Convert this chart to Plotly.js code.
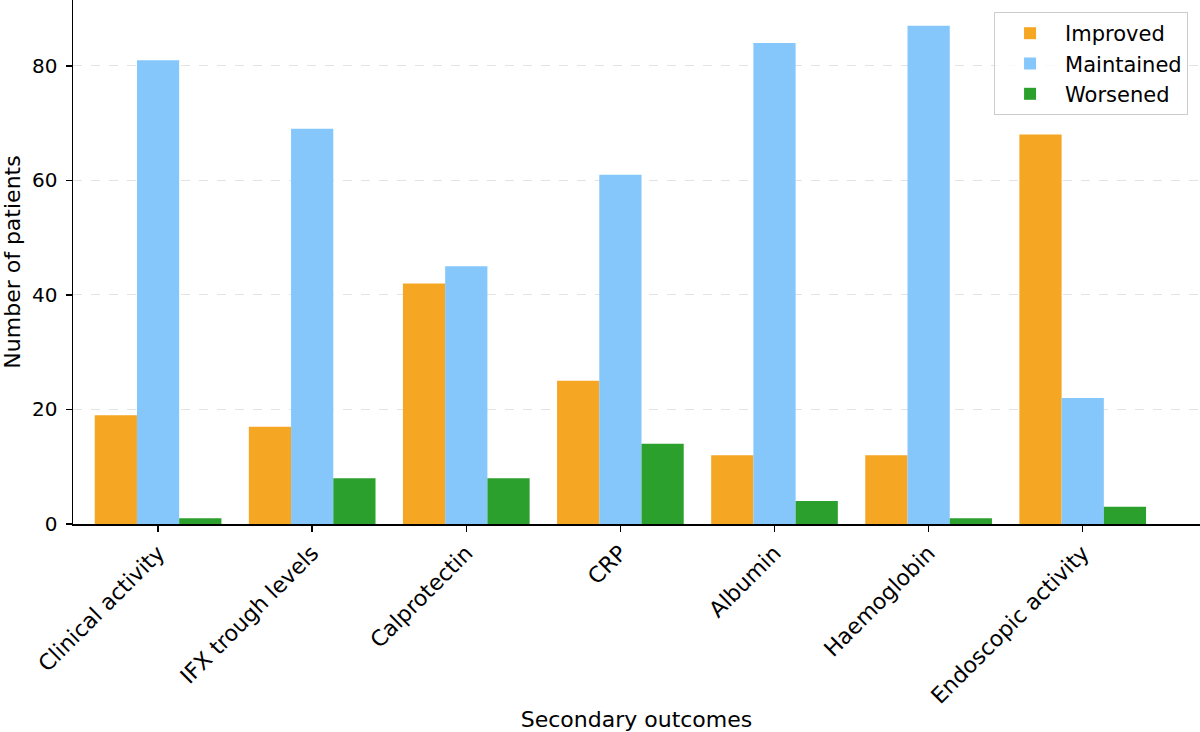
<!DOCTYPE html>
<html>
<head>
<meta charset="utf-8">
<script src="https://cdn.plot.ly/plotly-3.0.1.min.js"></script>
<style>html,body{margin:0;padding:0;background:#fff;}#chart{width:1200px;height:732px;}</style>
</head>
<body>
<div id="chart"></div>
<script>
const categories = ["Clinical activity", "IFX trough levels", "Calprotectin", "CRP", "Albumin", "Haemoglobin", "Endoscopic activity"];
const improved = [19, 17, 42, 25, 12, 12, 68];
const maintained = [81, 69, 45, 61, 84, 87, 22];
const worsened = [1, 8, 8, 14, 4, 1, 3];
const seriesNames = ["Improved", "Maintained", "Worsened"];
const seriesColors = ["#F5A623", "#85C6FB", "#2CA02C"];
const yTicks = [0, 20, 40, 60, 80];

const idx = categories.map((c, i) => i);
const data = [improved, maintained, worsened].map((vals, k) => ({
  type: "bar",
  x: idx,
  y: vals,
  name: seriesNames[k],
  marker: {color: seriesColors[k], line: {width: 0}},
  hoverinfo: "y"
}));

const layout = {
  width: 1200, height: 732,
  margin: {l: 73, r: 0, t: 0, b: 208},
  paper_bgcolor: "#fff", plot_bgcolor: "#fff",
  font: {family: "DejaVu Sans, sans-serif", color: "#000", size: 20},
  barmode: "group", bargap: 0.178, bargroupgap: 0,
  showlegend: true,
  legend: {
    x: 0.9894, xanchor: "right", y: 0.977, yanchor: "top",
    bgcolor: "rgba(255,255,255,0.8)", bordercolor: "#cccccc", borderwidth: 1,
    font: {size: 21, family: "DejaVu Sans, sans-serif"},
    itemwidth: 60, tracegroupgap: 0
  },
  xaxis: {
    range: [-0.552, 6.761],
    tickmode: "array", tickvals: idx, ticktext: categories,
    tickangle: -45,
    ticks: "outside", ticklen: 6, tickwidth: 1.5, tickcolor: "#000",
    showline: true, linecolor: "#000", linewidth: 1.5, mirror: false,
    showgrid: false, zeroline: false,
    tickfont: {size: 22},
    title: {text: "Secondary outcomes", font: {size: 22}, standoff: 14}
  },
  yaxis: {
    range: [0, 91.5],
    tickmode: "array", tickvals: yTicks, ticktext: yTicks.map(String),
    ticks: "outside", ticklen: 6, tickwidth: 1.5, tickcolor: "#000",
    showline: true, linecolor: "#000", linewidth: 1.5, mirror: false,
    showgrid: true, gridcolor: "#e3e3e3", griddash: "dash", gridwidth: 1,
    zeroline: false,
    tickfont: {size: 20},
    ticklabelstandoff: 4,
    title: {text: "Number of patients", font: {size: 22}, standoff: 12}
  }
};

Plotly.newPlot("chart", data, layout, {displayModeBar: false, staticPlot: true});
</script>
</body>
</html>
